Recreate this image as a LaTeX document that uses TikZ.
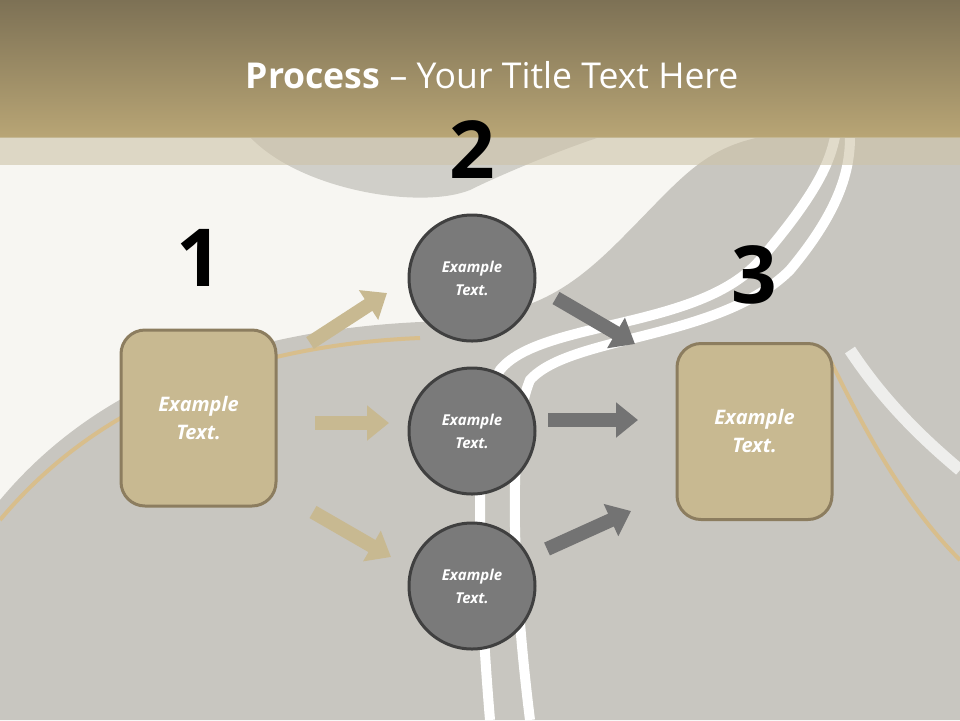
\documentclass[tikz,border=0pt]{standalone}
\usepackage{fontspec}
\setmainfont{Open Sans}
\usetikzlibrary{arrows.meta}
\definecolor{tan}{HTML}{C8B991}
\definecolor{tanb}{HTML}{8C7D5F}
\definecolor{road}{HTML}{C8C6C0}
\definecolor{circ}{HTML}{7A7A7A}
\definecolor{bg}{HTML}{F7F6F2}
\definecolor{htop}{HTML}{7D7155}
\definecolor{hbot}{HTML}{B8A575}
\definecolor{strip}{HTML}{CDC3A8}
\definecolor{edge}{HTML}{D8BE8C}
\tikzset{
 box/.style={draw=tanb,line width=1.5pt,fill=tan,rounded corners=12pt,minimum width=77.5pt,minimum height=88pt,text=white,font=\bfseries\itshape\fontsize{10}{14}\selectfont,align=center},
 circ/.style={circle,draw=black!75,line width=1.5pt,fill=circ,minimum size=63pt,text=white,font=\bfseries\itshape\fontsize{7.5}{11.5}\selectfont,align=center},
 num/.style={font=\bfseries\fontsize{40}{40}\selectfont},
 tarr/.style={draw=tan,line width=7pt,-{Triangle[length=11pt,width=17pt]}},
 garr/.style={draw=black!55,line width=7pt,-{Triangle[length=11pt,width=17pt]}}
}
\begin{document}
\begin{tikzpicture}[x=0.5pt,y=-0.5pt]
\useasboundingbox (0,0) rectangle (960,720);
\fill[bg] (0,0) rectangle (960,720);
% roads
\fill[road] (0,500) .. controls (100,380) and (250,330) .. (420,322) .. controls (520,318) and (560,300) .. (620,240) .. controls (680,180) and (700,150) .. (760,137) -- (960,137) -- (960,720) -- (0,720) -- cycle;
\fill[road!85!white] (250,137) .. controls (300,190) and (420,210) .. (470,190) .. controls (500,175) and (560,150) .. (600,137) -- cycle;
\draw[white,line width=5pt] (490,720) .. controls (480,600) and (470,420) .. (500,370) .. controls (540,320) and (700,330) .. (760,260) .. controls (820,190) and (830,160) .. (835,137);
\draw[white,line width=5pt] (530,720) .. controls (515,600) and (505,440) .. (530,380) .. controls (570,335) and (720,340) .. (790,270) .. controls (840,210) and (850,170) .. (850,137);
\draw[edge,line width=2pt] (0,520) .. controls (100,400) and (250,345) .. (420,338);
\draw[edge,line width=2pt] (960,560) .. controls (900,500) and (860,420) .. (830,360);
\draw[white!70!road,line width=6pt] (960,470) .. controls (900,420) and (870,380) .. (850,350);
% header
\shade[top color=htop,bottom color=hbot] (0,0) rectangle (960,137);
\fill[strip,opacity=0.6] (0,137) rectangle (960,165);
\node[text=white,font=\fontsize{17.8}{20}\selectfont] (title) at (492,75) {\textbf{Process} – Your Title Text Here};
% numbers
\node[num] (n1) at (199,258) {1};
\node[num] (n2) at (472,150) {2};
\node[num] (n3) at (754,275) {3};
% boxes
\node[box] (b1) at (198.5,418) {Example\\Text.};
\node[box] (b3) at (754.5,431.5) {Example\\Text.};
\node[circ] (c1) at (472,278) {Example\\Text.};
\node[circ] (c2) at (472,431) {Example\\Text.};
\node[circ] (c3) at (472,586) {Example\\Text.};
% arrows
\coordinate (a1s) at (310,343); \coordinate (a1e) at (387,293);
\coordinate (a2s) at (315,423); \coordinate (a2e) at (389,423);
\coordinate (a3s) at (313,512); \coordinate (a3e) at (391,557);
\coordinate (g1s) at (556,298); \coordinate (g1e) at (635,344);
\coordinate (g2s) at (548,420); \coordinate (g2e) at (638,420);
\coordinate (g3s) at (547,549); \coordinate (g3e) at (631,511);
\draw[tarr] (a1s) -- (a1e);
\draw[tarr] (a2s) -- (a2e);
\draw[tarr] (a3s) -- (a3e);
\draw[garr] (g1s) -- (g1e);
\draw[garr] (g2s) -- (g2e);
\draw[garr] (g3s) -- (g3e);
\end{tikzpicture}
\end{document}
